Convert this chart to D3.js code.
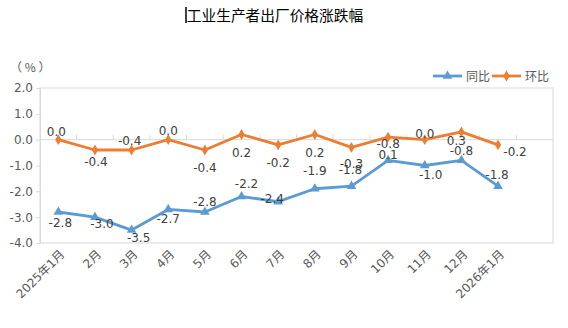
<!DOCTYPE html>
<head>
<meta charset="UTF-8">
<script src="https://d3js.org/d3.v7.min.js"></script>
<style>
  body { margin: 0; background: #fff; }
  text { font-family: "DejaVu Sans", "Noto Sans CJK SC", sans-serif; }
</style>
</head>
<body>
<div id="chart"></div>
<script>
// chart data
const months = ["2025年1月", "2月", "3月", "4月", "5月", "6月", "7月", "8月", "9月", "10月", "11月", "12月", "2026年1月"];
const yoy = [-2.8, -3.0, -3.5, -2.7, -2.8, -2.2, -2.4, -1.9, -1.8, -0.8, -1.0, -0.8, -1.8];   // 同比
const mom = [0.0, -0.4, -0.4, 0.0, -0.4, 0.2, -0.2, 0.2, -0.3, 0.1, 0.0, 0.3, -0.2];          // 环比
const yTicks = [2, 1, 0, -1, -2, -3, -4];

// where each data label sits relative to its point (dx, dy)
const yoyNudge = [[2, 11], [7, 7], [7, 8], [0, 9], [0, -10], [5, -13], [-6, -3], [0, -18], [-1, -16], [0, -17], [6, 9], [0, -10], [-1, -11]];
const momNudge = [[-2, -8], [1, 12], [-2, -9], [0, -9], [0, 18], [0, 18], [0, 18], [0, 18], [0, 16], [0, 18], [0, -6], [-5, 9], [17, 7]];

const width = 568, height = 328;
const blue = "#5B9BD5", orange = "#ED7D31";
const fmt = v => v.toFixed(1);   // plain hyphen minus like the source

const svg = d3.select("#chart").append("svg")
  .attr("width", width)
  .attr("height", height);

const x = d3.scaleBand().domain(months.concat([""])).range([40, 553]);
const y = d3.scaleLinear().domain([-4, 2]).range([243, 88]);
const cx = i => x(months[i]) + x.bandwidth() / 2;

// title (with the stray text cursor seen in the source)
svg.append("line").attr("x1", 186).attr("x2", 186).attr("y1", 7).attr("y2", 23)
  .attr("stroke", "#000").attr("stroke-width", 1.5);
svg.append("text").attr("x", 275).attr("y", 21).attr("text-anchor", "middle")
  .attr("font-size", 14.7).attr("fill", "#000").text("工业生产者出厂价格涨跌幅");

// unit
svg.append("text").attr("x", 10).attr("y", 72).attr("font-size", 12).attr("fill", "#595959")
  .style("font-family", "'Noto Sans CJK SC'").attr("xml:space", "preserve").text("（ % ）");

// frame
svg.append("rect").attr("x", 40).attr("y", y(2)).attr("width", 553 - 40).attr("height", y(-4) - y(2))
  .attr("fill", "none").attr("stroke", "#d9d9d9").attr("stroke-width", 1);

// y axis
const yAxis = svg.append("g").attr("transform", "translate(40,0)")
  .call(d3.axisLeft(y).tickValues(yTicks).tickFormat(fmt).tickSize(4).tickPadding(3));
yAxis.select(".domain").attr("stroke", "#d9d9d9");
yAxis.selectAll(".tick line").attr("stroke", "#d9d9d9");
yAxis.selectAll(".tick text").attr("font-size", 12).attr("fill", "#595959")
  .attr("font-family", "DejaVu Sans");

// category axis across zero, ticks between categories
const zero = svg.append("g");
zero.append("line").attr("x1", 40).attr("x2", 553).attr("y1", y(0)).attr("y2", y(0))
  .attr("stroke", "#d9d9d9");
zero.selectAll("line.tk").data(x.domain().slice(1)).join("line").attr("class", "tk")
  .attr("x1", d => x(d)).attr("x2", d => x(d))
  .attr("y1", y(0)).attr("y2", y(0) - 5).attr("stroke", "#d9d9d9");

// month labels, rotated
svg.append("g").selectAll("text").data(months).join("text")
  .attr("transform", (d, i) => `translate(${cx(i) + 7},${255}) rotate(-45)`)
  .attr("text-anchor", "end")
  .attr("font-size", 12).attr("fill", "#595959")
  .text(d => d);

// series
const line = d3.line().x((d, i) => cx(i)).y(d => y(d));

function drawSeries(vals, color, marker) {
  svg.append("path").datum(vals).attr("d", line)
    .attr("fill", "none").attr("stroke", color).attr("stroke-width", 2.8)
    .attr("stroke-linejoin", "round");
  svg.append("g").selectAll("path").data(vals).join("path")
    .attr("transform", (d, i) => `translate(${cx(i)},${y(d)})`)
    .attr("d", d3.symbol().type(marker).size(marker === d3.symbolTriangle ? 40 : 34))
    .attr("fill", color);
}

drawSeries(mom, orange, d3.symbolDiamond);
drawSeries(yoy, blue, d3.symbolTriangle);

function drawLabels(vals, nudge) {
  svg.append("g").selectAll("text").data(vals).join("text")
    .attr("x", (d, i) => cx(i) + nudge[i][0])
    .attr("y", (d, i) => y(d) + nudge[i][1])
    .attr("dy", "0.35em")
    .attr("text-anchor", "middle")
    .attr("font-size", 12).attr("fill", "#404040")
    .text(d => fmt(d));
}

drawLabels(mom, momNudge);
drawLabels(yoy, yoyNudge);

// legend
const legend = [["同比", blue, d3.symbolTriangle], ["环比", orange, d3.symbolDiamond]];
const lg = svg.append("g").attr("transform", "translate(433,76)");
legend.forEach(([name, color, marker], k) => {
  const g = lg.append("g").attr("transform", `translate(${k * 59},0)`);
  g.append("line").attr("x1", 0).attr("x2", 29).attr("stroke", color).attr("stroke-width", 2.8);
  g.append("path").attr("transform", "translate(14.5,0)")
    .attr("d", d3.symbol().type(marker).size(marker === d3.symbolTriangle ? 40 : 34)).attr("fill", color);
  g.append("text").attr("x", 33).attr("dy", "0.38em").attr("font-size", 12).attr("fill", "#595959").text(name);
});
</script>
</body>
</html>
